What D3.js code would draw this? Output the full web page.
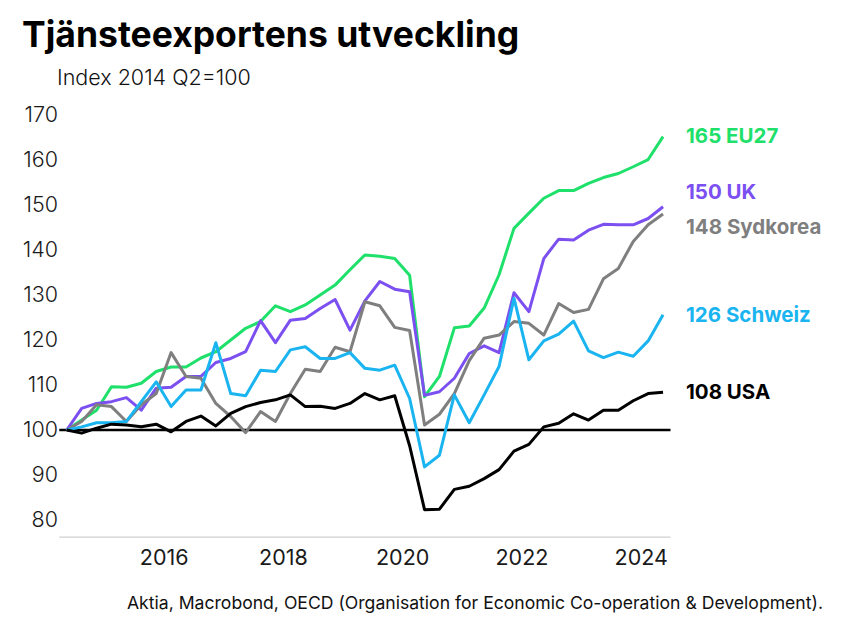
<!DOCTYPE html>
<html>
<head>
<meta charset="utf-8">
<script src="https://cdn.jsdelivr.net/npm/d3@7/dist/d3.min.js"></script>
<style>
  html, body { margin: 0; padding: 0; background: #fff; }
  svg { display: block; font-family: Inter, "Noto Sans", sans-serif; }
</style>
</head>
<body>
<svg id="chart" width="851" height="628"></svg>
<script>
// ---- Data ----
const quarters = [
  "2014 Q2","2014 Q3","2014 Q4",
  "2015 Q1","2015 Q2","2015 Q3","2015 Q4",
  "2016 Q1","2016 Q2","2016 Q3","2016 Q4",
  "2017 Q1","2017 Q2","2017 Q3","2017 Q4",
  "2018 Q1","2018 Q2","2018 Q3","2018 Q4",
  "2019 Q1","2019 Q2","2019 Q3","2019 Q4",
  "2020 Q1","2020 Q2","2020 Q3","2020 Q4",
  "2021 Q1","2021 Q2","2021 Q3","2021 Q4",
  "2022 Q1","2022 Q2","2022 Q3","2022 Q4",
  "2023 Q1","2023 Q2","2023 Q3","2023 Q4",
  "2024 Q1","2024 Q2"
];
const eu27 = [100,102.2,104.4,109.6,109.5,110.4,113,114,114,116,117.4,120,122.6,124.1,127.6,126.3,127.8,130,132.2,135.6,138.9,138.6,138.1,134.4,107.4,111.9,122.7,123.1,127.1,134.5,144.8,148.2,151.5,153.2,153.2,154.8,156.1,157,158.5,160.1,165.2];
const uk = [100,104.8,105.9,106.3,107.2,104.4,109.3,109.5,111.9,111.9,115,115.9,117.4,124.3,119.4,124.4,124.8,127,129,122.2,128.7,133,131.3,130.7,107.7,108.5,111.5,117,118.7,117.2,130.5,126.3,138.1,142.4,142.2,144.4,145.7,145.6,145.6,147,149.6];
const sydkorea = [100,101.9,105.6,105.2,101.9,105.6,108.1,117.2,111.9,111.5,105.9,103,99.4,104.1,101.9,108.1,113.5,113,118.4,117.4,128.5,127.6,122.8,122.1,101.1,103.5,108.1,115.4,120.4,121.1,124.1,123.7,121.1,128.1,126.1,126.8,133.6,135.9,141.9,145.6,148];
const schweiz = [100,100.7,101.6,101.6,101.9,106.3,110.7,105.2,108.9,108.9,119.4,108.1,107.6,113.3,113,117.8,118.5,115.9,115.9,117.2,113.7,113.3,114.4,107,91.8,94.4,107.8,101.6,107.8,114.1,129.3,115.6,119.8,121.3,124.2,117.6,116.1,117.3,116.4,119.8,125.6];
const usa = [100,99.3,100.4,101.3,101.1,100.7,101.3,99.6,101.9,103.1,100.9,103.7,105.2,106.1,106.7,107.8,105.2,105.3,104.8,105.9,108.1,106.7,107.6,96.5,82.3,82.4,86.8,87.5,89.2,91.2,95.3,96.8,100.7,101.5,103.6,102.2,104.4,104.4,106.5,108.1,108.4];

const seriesNames = ["EU27","UK","Sydkorea","Schweiz","USA"];
const seriesColors = ["#1ee06a","#7b4ff0","#7f7f7f","#1ab4f0","#000000"];
const seriesValues = [eu27, uk, sydkorea, schweiz, usa];
const yTicks = [80,90,100,110,120,130,140,150,160,170];
const yearTicks = [2016,2018,2020,2022,2024];

const titleText = "Tjänsteexportens utveckling";
const subtitleText = "Index 2014 Q2=100";
const sourceText = "Aktia, Macrobond, OECD (Organisation for Economic Co-operation & Development).";

// ---- Chart ----
const svg = d3.select("#chart");

// quarter label -> fractional year at mid-quarter
const qToYear = q => {
  const [y, qq] = q.split(" Q");
  return +y + (+qq - 1) / 4 + 0.125;
};

const x = d3.scaleLinear().domain([2014.25, 2024.5]).range([59.3, 670.5]);
const y = d3.scaleLinear().domain([80, 170]).range([520, 115]);
const yBottom = 76.2;

// title
svg.append("text").attr("x", 22).attr("y", 47)
  .attr("font-size", 35.5).attr("font-weight", 700).attr("fill", "#000")
  .text(titleText);
svg.append("text").attr("x", 57).attr("y", 85)
  .attr("font-size", 21.5).attr("font-weight", 300).attr("fill", "#111")
  .text(subtitleText);

// y axis labels
const yAxis = d3.axisLeft(y).tickValues(yTicks).tickSize(0).tickPadding(0).tickFormat(d3.format("d"));
const gy = svg.append("g").attr("transform", "translate(58,0)").call(yAxis);
gy.select(".domain").remove();
gy.selectAll("text").attr("font-size", 21.5).attr("font-weight", 300)
  .attr("fill", "#1a1a1a").attr("font-family", "Inter, sans-serif");

// bottom axis
const xAxis = d3.axisBottom(x).tickValues(yearTicks).tickSize(0).tickPadding(13).tickFormat(d3.format("d"));
const gx = svg.append("g").attr("transform", `translate(0,${y(yBottom)})`).call(xAxis);
gx.select(".domain").attr("stroke", "#d0d0d0").attr("stroke-width", 1.2)
  .attr("d", `M${x.range()[0]},0H${x.range()[1]}`);
gx.selectAll("text").attr("font-size", 21.5).attr("font-weight", 400)
  .attr("fill", "#1a1a1a").attr("font-family", "Inter, sans-serif");

// baseline 100
svg.append("line")
  .attr("x1", x.range()[0]).attr("x2", x.range()[1])
  .attr("y1", y(100)).attr("y2", y(100))
  .attr("stroke", "#000").attr("stroke-width", 2.5);

// lines
const line = d3.line().x((d, i) => x(qToYear(quarters[i]))).y(d => y(d));
seriesValues.forEach((vals, k) => {
  svg.append("path").datum(vals)
    .attr("fill", "none")
    .attr("stroke", seriesColors[k])
    .attr("stroke-width", 3)
    .attr("stroke-linejoin", "round")
    .attr("d", line);
});

// end labels
const labelY = [135, 191, 226, 314, 391];
seriesValues.forEach((vals, k) => {
  svg.append("text")
    .attr("x", 686).attr("y", labelY[k])
    .attr("dominant-baseline", "central")
    .attr("font-size", 20.5).attr("font-weight", 700)
    .attr("fill", seriesColors[k])
    .text(`${Math.round(vals[vals.length - 1])} ${seriesNames[k]}`);
});

// source
svg.append("text").attr("x", 823).attr("y", 609)
  .attr("text-anchor", "end")
  .attr("font-size", 17.6).attr("font-weight", 400).attr("fill", "#111")
  .text(sourceText);
</script>
</body>
</html>
